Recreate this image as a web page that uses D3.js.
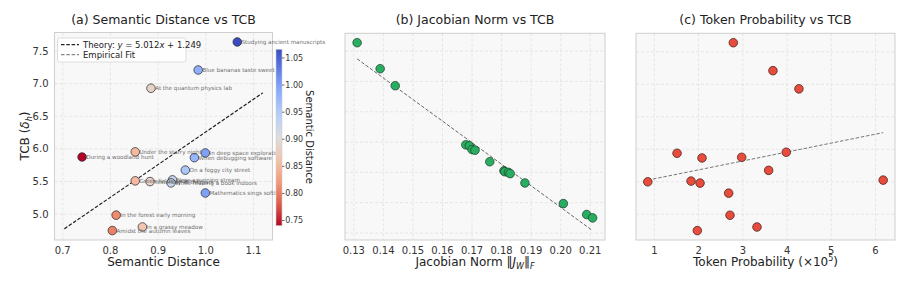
<!DOCTYPE html>
<html>
<head>
<meta charset="utf-8">
<script src="https://cdn.jsdelivr.net/npm/d3@7"></script>
<style>
  body { margin: 0; background: #fff; }
  text { font-family: "DejaVu Sans", sans-serif; }
</style>
</head>
<body>
<div id="chart"></div>
<script>
// Data (one entry per prompt)
const prompts = [
  "Studying ancient manuscripts", "Blue bananas taste sweet", "At the quantum physics lab",
  "Under the starry night", "In deep space exploration", "During a woodland hunt",
  "When debugging software", "On a foggy city street", "Near a running stream",
  "Green fields under sky", "Yesterday at the park", "While reading a book indoors",
  "Mathematics sings softly", "In the forest early morning", "In a grassy meadow",
  "Amidst the autumn leaves"
];
const semDist = [1.066, 0.984, 0.885, 0.852, 0.999, 0.7405, 0.976, 0.957, 0.930, 0.852, 0.883, 0.927, 0.999, 0.812, 0.867, 0.804];
const tcb = [7.64, 7.21, 6.93, 5.954, 5.938, 5.876, 5.866, 5.675, 5.525, 5.51, 5.499, 5.479, 5.324, 4.984, 4.803, 4.748];
const jacNorm = [0.1311, 0.1389, 0.1440, 0.1679, 0.1691, 0.1700, 0.1710, 0.1760, 0.1808, 0.1811, 0.1823, 0.1829, 0.1879, 0.2009, 0.2088, 0.2108];
const tokenProb = [2.785, 3.681, 4.268, 3.982, 1.513, 2.974, 2.077, 3.584, 6.173, 1.829, 0.851, 2.033, 2.68, 2.71, 3.32, 1.971];

// line coefficients [slope, intercept]
const theoryFit = [5.012, 1.249];
const jacFit = [-35.58, 12.038];
const tokFit = [0.1374, 5.408];

const ticksA_x = [0.7, 0.8, 0.9, 1.0, 1.1];
const ticksY = [5.0, 5.5, 6.0, 6.5, 7.0, 7.5];
const ticksB_x = [0.13, 0.14, 0.15, 0.16, 0.17, 0.18, 0.19, 0.20, 0.21];
const ticksB_y = [4.5, 5.0, 5.5, 6.0, 6.5, 7.0, 7.5];
const ticksC_x = [1, 2, 3, 4, 5, 6];
const cbarTicks = [0.75, 0.80, 0.85, 0.90, 0.95, 1.00, 1.05];

const W = 914, H = 283;
const svg = d3.select('#chart').append('svg').attr('width', W).attr('height', H);

// coolwarm stops, reversed (low = red, high = blue)
const coolwarm = ['#3b4cc0', '#6282ea', '#8db0fe', '#b8d0f9', '#dddddd', '#f5c4ad', '#f49a7b', '#de604d', '#b40426'];
const cwInterp = d3.piecewise(d3.interpolateRgb, coolwarm);
const cExt = d3.extent(semDist);
const color = v => cwInterp(1 - (v - cExt[0]) / (cExt[1] - cExt[0]));

function panel(o) {
  const g = svg.append('g');
  const x = d3.scaleLinear().domain(o.xdom).range([o.left, o.right]);
  const y = d3.scaleLinear().domain(o.ydom).range([o.bottom, o.top]);
  g.append('rect').attr('x', o.left).attr('y', o.top)
    .attr('width', o.right - o.left).attr('height', o.bottom - o.top)
    .attr('fill', '#f8f8f8');
  // grid
  g.selectAll('.gx').data(o.xticks).join('line')
    .attr('x1', d => x(d)).attr('x2', d => x(d)).attr('y1', o.top).attr('y2', o.bottom)
    .attr('stroke', '#dedede').attr('stroke-width', 0.7).attr('stroke-dasharray', '3,2');
  g.selectAll('.gy').data(o.yticks).join('line')
    .attr('y1', d => y(d)).attr('y2', d => y(d)).attr('x1', o.left).attr('x2', o.right)
    .attr('stroke', '#dedede').attr('stroke-width', 0.7).attr('stroke-dasharray', '3,2');
  g.append('rect').attr('x', o.left).attr('y', o.top)
    .attr('width', o.right - o.left).attr('height', o.bottom - o.top)
    .attr('fill', 'none').attr('stroke', '#cfcfcf').attr('stroke-width', 1);
  // x tick labels
  g.selectAll('.tx').data(o.xticks).join('text')
    .attr('x', d => x(d)).attr('y', o.bottom + 14)
    .attr('text-anchor', 'middle').attr('font-size', 10).attr('fill', '#333')
    .text(o.xfmt);
  if (o.showY) {
    g.selectAll('.ty').data(o.yticks).join('text')
      .attr('x', o.left - 6).attr('y', d => y(d)).attr('dy', '0.35em')
      .attr('text-anchor', 'end').attr('font-size', 10).attr('fill', '#333')
      .text(d => d.toFixed(1));
  }
  g.append('text').attr('x', (o.left + o.right) / 2).attr('y', 24)
    .attr('text-anchor', 'middle').attr('font-size', 12.5).attr('fill', '#222').text(o.title);
  return {g, x, y};
}

// ---------- (a) ----------
const A = panel({left: 54.5, right: 272.5, top: 32.5, bottom: 240,
  xdom: [0.6827, 1.1398], ydom: [4.603, 7.785], xticks: ticksA_x, yticks: ticksY,
  xfmt: d => d.toFixed(1), showY: true, title: '(a) Semantic Distance vs TCB'});

const lx = [d3.min(semDist) * 0.95, d3.max(semDist) * 1.05];
const lineA = d3.line().x(d => A.x(d)).y(d => A.y(theoryFit[0] * d + theoryFit[1]));
A.g.append('path').datum(lx).attr('d', lineA).attr('fill', 'none')
  .attr('stroke', '#888').attr('stroke-width', 1).attr('stroke-dasharray', '3.5,1.8');
A.g.append('path').datum(lx).attr('d', lineA).attr('fill', 'none')
  .attr('stroke', '#222').attr('stroke-width', 1.1).attr('stroke-dasharray', '3.5,1.8');

A.g.selectAll('.pa').data(d3.range(prompts.length)).join('circle')
  .attr('cx', i => A.x(semDist[i])).attr('cy', i => A.y(tcb[i])).attr('r', 4.3)
  .attr('fill', i => color(semDist[i])).attr('stroke', '#222').attr('stroke-width', 0.7);
A.g.selectAll('.la').data(d3.range(prompts.length)).join('text')
  .attr('x', i => A.x(semDist[i]) + 4.2).attr('y', i => A.y(tcb[i])).attr('dy', '0.35em')
  .attr('font-size', 5.6).attr('fill', '#555').attr('opacity', 0.85)
  .text(i => prompts[i]);

// y axis label
svg.append('text').attr('transform', 'translate(29,136) rotate(-90)')
  .attr('text-anchor', 'middle').attr('font-size', 12).attr('fill', '#222')
  .html('TCB (<tspan font-style="italic">δ</tspan><tspan font-style="italic" font-size="8" dy="3">h</tspan><tspan dy="-3">)</tspan>');
svg.append('text').attr('x', 163.5).attr('y', 266).attr('text-anchor', 'middle')
  .attr('font-size', 12).attr('fill', '#222').text('Semantic Distance');

// legend
const leg = svg.append('g');
leg.append('rect').attr('x', 57.5).attr('y', 38).attr('width', 128.5).attr('height', 24)
  .attr('rx', 2).attr('fill', '#fff').attr('fill-opacity', 0.85).attr('stroke', '#d5d5d5').attr('stroke-width', 0.8);
[['#222', 'theory'], ['#888', 'emp']].forEach((d, k) => {
  const yy = 44.6 + k * 10;
  leg.append('line').attr('x1', 61).attr('x2', 79).attr('y1', yy).attr('y2', yy)
    .attr('stroke', d[0]).attr('stroke-width', 1.1).attr('stroke-dasharray', '3.5,1.8');
  const t = leg.append('text').attr('x', 83).attr('y', yy).attr('dy', '0.35em')
    .attr('font-size', 8.5).attr('fill', '#222');
  if (k === 0) t.html('Theory: <tspan font-style="italic">y</tspan> = 5.012<tspan font-style="italic">x</tspan> + 1.249');
  else t.text('Empirical Fit');
});

// colorbar
const cb = {x: 276, w: 6, top: 49.3, bottom: 225.7};
const cy = d3.scaleLinear().domain(cExt).range([cb.bottom, cb.top]);
const grad = svg.append('defs').append('linearGradient').attr('id', 'cbg')
  .attr('x1', 0).attr('y1', 1).attr('x2', 0).attr('y2', 0);
d3.range(0, 1.0001, 0.05).forEach(t => {
  grad.append('stop').attr('offset', t).attr('stop-color', cwInterp(1 - t));
});
svg.append('rect').attr('x', cb.x).attr('y', cb.top).attr('width', cb.w)
  .attr('height', cb.bottom - cb.top).attr('fill', 'url(#cbg)').attr('stroke', '#ccc').attr('stroke-width', 0.6);
svg.selectAll('.cbt').data(cbarTicks).join('line')
  .attr('x1', cb.x + cb.w).attr('x2', cb.x + cb.w + 2.5).attr('y1', d => cy(d)).attr('y2', d => cy(d))
  .attr('stroke', '#333').attr('stroke-width', 0.7);
svg.selectAll('.cbl').data(cbarTicks).join('text')
  .attr('x', cb.x + cb.w + 3.3).attr('y', d => cy(d)).attr('dy', '0.35em')
  .attr('font-size', 8).attr('fill', '#333').text(d => d.toFixed(2));
svg.append('text').attr('transform', 'translate(305.5,137) rotate(90)')
  .attr('text-anchor', 'middle').attr('font-size', 10).attr('fill', '#222').text('Semantic Distance');

// ---------- (b) ----------
const B = panel({left: 345, right: 605, top: 33.3, bottom: 240,
  xdom: [0.127, 0.215], ydom: [4.383, 7.795], xticks: ticksB_x, yticks: ticksB_y,
  xfmt: d => d.toFixed(2), showY: false, title: '(b) Jacobian Norm vs TCB'});
const bx = d3.extent(jacNorm);
B.g.append('path').datum(bx)
  .attr('d', d3.line().x(d => B.x(d)).y(d => B.y(jacFit[0] * d + jacFit[1])))
  .attr('fill', 'none').attr('stroke', '#666').attr('stroke-width', 1).attr('stroke-dasharray', '3.5,1.8');
B.g.selectAll('.pb').data(d3.range(jacNorm.length)).join('circle')
  .attr('cx', i => B.x(jacNorm[i])).attr('cy', i => B.y(tcb[i])).attr('r', 4.3)
  .attr('fill', '#27ae60').attr('stroke', '#1d3a28').attr('stroke-width', 0.7);
svg.append('text').attr('x', 475).attr('y', 266).attr('text-anchor', 'middle')
  .attr('font-size', 12).attr('fill', '#222')
  .html('Jacobian Norm ‖<tspan font-style="italic">J</tspan><tspan font-style="italic" font-size="8" dy="2.5">W</tspan><tspan dy="-2.5">‖</tspan><tspan font-style="italic" font-size="8" dy="2.5">F</tspan>');

// ---------- (c) ----------
const C = panel({left: 636, right: 895, top: 33.3, bottom: 240,
  xdom: [0.585, 6.44], ydom: [4.603, 7.785], xticks: ticksC_x, yticks: ticksY,
  xfmt: d => d, showY: false, title: '(c) Token Probability vs TCB'});
const cx = d3.extent(tokenProb);
C.g.append('path').datum(cx)
  .attr('d', d3.line().x(d => C.x(d)).y(d => C.y(tokFit[0] * d + tokFit[1])))
  .attr('fill', 'none').attr('stroke', '#777').attr('stroke-width', 1).attr('stroke-dasharray', '3.5,1.8');
C.g.selectAll('.pc').data(d3.range(tokenProb.length)).join('circle')
  .attr('cx', i => C.x(tokenProb[i])).attr('cy', i => C.y(tcb[i])).attr('r', 4.3)
  .attr('fill', '#e74c3c').attr('stroke', '#3a1a16').attr('stroke-width', 0.7);
svg.append('text').attr('x', 765.5).attr('y', 266).attr('text-anchor', 'middle')
  .attr('font-size', 12).attr('fill', '#222')
  .html('Token Probability (×10<tspan font-size="8" dy="-5">5</tspan><tspan dy="5">)</tspan>');
</script>
</body>
</html>
